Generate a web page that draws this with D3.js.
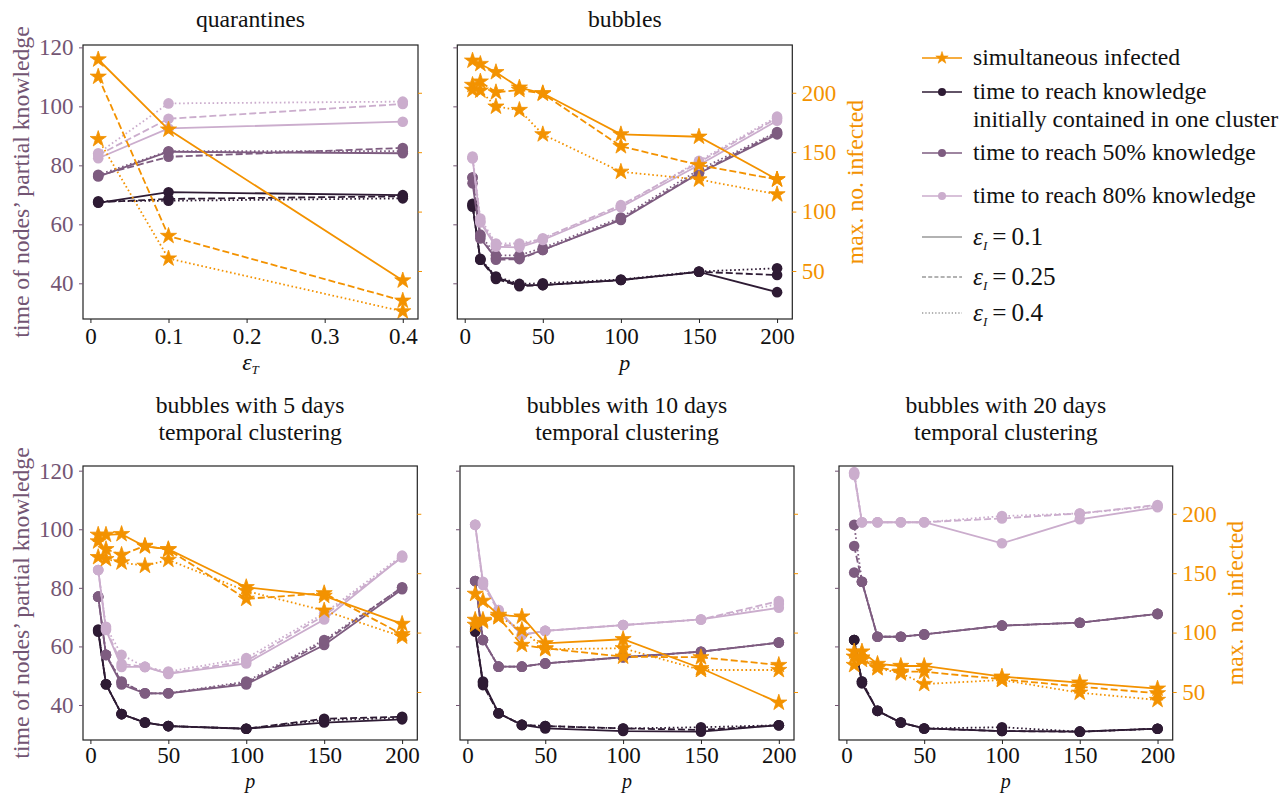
<!DOCTYPE html>
<html>
<head>
<meta charset="utf-8">
<script src="https://cdn.jsdelivr.net/npm/d3@7"></script>
<style>
  body { margin: 0; background: #fff; }
</style>
</head>
<body>
<div id="chart"></div>
<script>
// x values
const epsT = [0.01, 0.1, 0.4];
const pVals = [5, 10, 20, 35, 50, 100, 150, 200];

// rows: eps_I = 0.1 (solid), 0.25 (dashed), 0.4 (dotted)
// quarantines
const quarInfected = [[228, 169, 42], [213.5, 79.5, 25], [161, 60.5, 16]];
const quarCluster  = [[67.3, 70.9, 69.9], [67.5, 68.6, 69.5], [67.8, 68.0, 68.8]];
const quarHalf     = [[76.2, 84.6, 84.1], [76.5, 82.9, 85.9], [76.8, 84.8, 84.8]];
const quarEighty   = [[82.4, 92.5, 94.8], [83.5, 95.8, 100.8], [84.1, 101, 101.6]];

// bubbles
const bubInfected = [[227, 224.2, 217.3, 204.3, 199.6, 165, 163, 127],
                     [206.6, 209.4, 200.4, 202.4, 199.2, 155, 139.2, 127],
                     [202.4, 201.8, 188.3, 185.5, 165, 133.5, 127, 114.5]];
const bubCluster  = [[66.5, 48, 42, 39.4, 39.4, 41.1, 43.9, 37],
                     [66.0, 48, 41.5, 39, 39.4, 41.1, 43.9, 42.8],
                     [67, 48.3, 42.3, 39.8, 40, 41.3, 44, 45.1]];
const bubHalf     = [[73.9, 55.2, 48.5, 48.5, 51.3, 61.5, 77.3, 90.5],
                     [75.9, 56, 48, 48.2, 51.3, 61.8, 77.6, 91],
                     [75.9, 56.5, 49.5, 49.5, 52, 62.3, 78.5, 91.3]];
const bubEighty   = [[82.4, 60.6, 52.4, 52.2, 54.7, 65.8, 80.1, 95.1],
                     [82.4, 61, 53, 52.8, 55.3, 66.5, 81, 96],
                     [83, 62, 53.5, 53.5, 55, 66, 81.5, 96.5]];

// bubbles with 5 days temporal clustering
const t5Infected = [[182.3, 182.3, 182.9, 172.5, 170.2, 138.2, 130.9, 107.3],
                    [176.7, 170.2, 165.4, 173, 169.7, 128.4, 133.1, 98.6],
                    [163.5, 161.8, 159, 156.2, 161.2, 135, 118.5, 96.6]];
const t5Cluster  = [[65, 47.1, 36.9, 34, 32.8, 31.9, 34, 35.1],
                    [65.8, 47.1, 36.9, 34, 32.8, 31.9, 35.3, 36],
                    [65.5, 47.1, 36.9, 34, 32.8, 31.9, 34.8, 35.6]];
const t5Half     = [[77, 57.1, 47, 44, 44, 47, 60.5, 79.5],
                    [77, 57.1, 47.8, 44, 44, 47.5, 61.5, 80.2],
                    [77, 57.1, 48, 44, 44, 48, 62.2, 80]];
const t5Eighty   = [[86.1, 65.6, 53, 53, 50.6, 54.2, 69.2, 90.6],
                    [86.1, 66, 54, 53, 50.8, 55, 70.5, 90.4],
                    [86.1, 66.7, 57.1, 53, 51.4, 56, 71.3, 91]];

// bubbles with 10 days temporal clustering
const t10Infected = [[132.6, 126.7, 114.9, 113.5, 91, 94.4, 70, 41],
                     [110.7, 109.3, 112.9, 89.6, 86.8, 79.7, 79.2, 72.7],
                     [106.5, 110.7, 113.5, 102.2, 86, 86.8, 68.5, 68.5]];
const t10Cluster  = [[65, 48, 37.2, 33.2, 32, 31.1, 30.9, 33.1],
                     [65.6, 46.8, 37.2, 33.2, 32.8, 32, 31.5, 33.1],
                     [65.6, 47.5, 37.2, 33.2, 32.8, 32, 32.4, 33.1]];
const t10Half     = [[82.3, 62.2, 53.1, 53.1, 54.2, 56.3, 58.2, 61.3],
                     [82.3, 62.2, 53.1, 53.1, 54.2, 56.3, 58.2, 61.3],
                     [82.3, 62.2, 53.1, 53.1, 54.2, 56.3, 58.2, 61.3]];
const t10Eighty   = [[101.5, 82.1, 72.4, 63.9, 65.3, 67.3, 69.2, 73.2],
                     [101.5, 81, 72, 64, 65.3, 67.3, 69.2, 75.5],
                     [101.5, 81.5, 72.4, 64, 65.3, 67.3, 69.2, 74.5]];

// bubbles with 20 days temporal clustering
const t20Infected = [[84, 84, 73.6, 71.9, 71.9, 62.9, 57.9, 52.8],
                     [79.7, 77, 70.8, 67.1, 67.1, 60.7, 54.5, 48.9],
                     [72.7, 79, 70, 65.7, 56.7, 60.1, 49.4, 43.3]];
const t20Cluster  = [[62.2, 47.4, 38, 34, 32, 31.1, 30.9, 31.9],
                     [62.2, 48, 38, 34, 32, 31.1, 30.9, 31.9],
                     [62.2, 48, 38, 34, 32, 32.4, 30.9, 31.9]];
const t20Half     = [[85.2, 82.1, 63.3, 63.3, 64.1, 67.1, 68.1, 71.1],
                     [94.3, 82.1, 63.3, 63.3, 64.1, 67.1, 68.1, 71.1],
                     [101.5, 82.1, 63.3, 63.3, 64.1, 67.1, 68.1, 71.1]];
const t20Eighty   = [[119.1, 102.4, 102.4, 102.4, 102.4, 95.2, 103.4, 107.5],
                     [118.5, 102.4, 102.4, 102.4, 102.4, 103.7, 105.4, 108.3],
                     [119.5, 102.4, 102.4, 102.4, 102.4, 104.5, 105.4, 108]];

const leftTicks = [40, 60, 80, 100, 120];
const rightTicks = [50, 100, 150, 200];
const epsTTicks = [0, 0.1, 0.2, 0.3, 0.4];
const pTicks = [0, 50, 100, 150, 200];

// colours / styles
const orange = '#f39200';
const dark = '#2e1b34';
const mid = '#7e5c80';
const light = '#cbadcd';
const purpleText = '#735573';
const dashes = [null, '7,3', '1.6,2.6'];
const fontSize = 23.7;
const tickSize = 23;
const serif = '"Liberation Serif", "Times New Roman", Times, "Nimbus Roman", "DejaVu Serif", serif';

const width = 1285, height = 793;
const svg = d3.select('#chart').append('svg')
    .attr('width', width)
    .attr('height', height)
    .attr('font-family', serif)
    .style('font-family', serif);

//5 pointed star like the matplotlib '*' marker
function starPath(R) {
    const r = R * 0.382;
    const pts = [];
    for (let i = 0; i < 10; i++) {
        const a = -Math.PI / 2 + i * Math.PI / 5;
        const rad = i % 2 ? r : R;
        pts.push([rad * Math.cos(a), rad * Math.sin(a)]);
    }
    return 'M' + pts.map(p => p[0].toFixed(2) + ',' + p[1].toFixed(2)).join('L') + 'Z';
}

// xlabY / xlabSize / tickPad differ per row so the bottom labels stay inside the page
const panels = [
    {title: ['quarantines'], x: epsT, inf: quarInfected, clu: quarCluster, half: quarHalf, eighty: quarEighty,
     box: [83, 418, 45, 319], xdom: [-0.0095, 0.4195], ydom: [27.9, 120.8], xticks: epsTTicks,
     leftLab: true, rightLab: false, xlabel: 'T', titleY: [27], xlabY: 370, xlabSize: 22, tickPad: 5},
    {title: ['bubbles'], x: pVals, inf: bubInfected, clu: bubCluster, half: bubHalf, eighty: bubEighty,
     box: [457.3, 792.3, 45, 319], xdom: [-4.75, 209.75], ydom: [27.9, 120.8], xticks: pTicks,
     leftLab: false, rightLab: true, xlabel: 'p', titleY: [27], xlabY: 370, xlabSize: 22, tickPad: 5},
    {title: ['bubbles with 5 days', 'temporal clustering'], x: pVals, inf: t5Infected, clu: t5Cluster, half: t5Half, eighty: t5Eighty,
     box: [83, 417.3, 466, 740], xdom: [-4.75, 209.75], ydom: [28.05, 121.6], xticks: pTicks,
     leftLab: true, rightLab: false, xlabel: 'p', titleY: [413, 440], xlabY: 788, xlabSize: 20, tickPad: 3},
    {title: ['bubbles with 10 days', 'temporal clustering'], x: pVals, inf: t10Infected, clu: t10Cluster, half: t10Half, eighty: t10Eighty,
     box: [460, 794, 466, 740], xdom: [-4.75, 209.75], ydom: [28.05, 121.6], xticks: pTicks,
     leftLab: false, rightLab: false, xlabel: 'p', titleY: [413, 440], xlabY: 788, xlabSize: 20, tickPad: 3},
    {title: ['bubbles with 20 days', 'temporal clustering'], x: pVals, inf: t20Infected, clu: t20Cluster, half: t20Half, eighty: t20Eighty,
     box: [839, 1172.7, 466, 740], xdom: [-4.75, 209.75], ydom: [28.05, 121.6], xticks: pTicks,
     leftLab: false, rightLab: true, xlabel: 'p', titleY: [413, 440], xlabY: 788, xlabSize: 20, tickPad: 3}
];

panels.forEach((pn, pi) => {
    const [x0, x1, y0, y1] = pn.box;
    const x = d3.scaleLinear().domain(pn.xdom).range([x0, x1]);
    const yL = d3.scaleLinear().domain(pn.ydom).range([y1, y0]);
    const yR = d3.scaleLinear().domain([9.6, 240.2]).range([y1, y0]);
    const g = svg.append('g');

    const clipId = 'clip' + pi;
    g.append('clipPath').attr('id', clipId).append('rect')
        .attr('x', x0).attr('y', y0).attr('width', x1 - x0).attr('height', y1 - y0);

    const plot = g.append('g').attr('clip-path', 'url(#' + clipId + ')');

    //purple series (left axis)
    const purpleSets = [[pn.clu, dark], [pn.half, mid], [pn.eighty, light]];
    purpleSets.forEach(([rows, col]) => {
        rows.forEach((vals, k) => {
            const pts = vals.map((v, i) => [pn.x[i], v]);
            plot.append('path')
                .attr('d', d3.line().x(d => x(d[0])).y(d => yL(d[1]))(pts))
                .attr('fill', 'none')
                .attr('stroke', col)
                .attr('stroke-width', 1.8)
                .attr('stroke-dasharray', dashes[k]);
            plot.selectAll(null).data(pts).enter().append('circle')
                .attr('cx', d => x(d[0]))
                .attr('cy', d => yL(d[1]))
                .attr('r', 5.3)
                .attr('fill', col);
        });
    });

    //orange series (right axis)
    pn.inf.forEach((vals, k) => {
        const pts = vals.map((v, i) => [pn.x[i], v]);
        plot.append('path')
            .attr('d', d3.line().x(d => x(d[0])).y(d => yR(d[1]))(pts))
            .attr('fill', 'none')
            .attr('stroke', orange)
            .attr('stroke-width', 1.8)
            .attr('stroke-dasharray', dashes[k]);
        plot.selectAll(null).data(pts).enter().append('path')
            .attr('d', starPath(8.5))
            .attr('transform', d => 'translate(' + x(d[0]) + ',' + yR(d[1]) + ')')
            .attr('fill', orange)
            .attr('stroke', orange)
            .attr('stroke-width', 0.8)
            .attr('stroke-linejoin', 'round');
    });

    //frame
    g.append('rect')
        .attr('x', x0).attr('y', y0)
        .attr('width', x1 - x0).attr('height', y1 - y0)
        .attr('fill', 'none')
        .attr('stroke', '#222')
        .attr('stroke-width', 1.2);

    //axes
    const fmtX = d => d === 0 ? '0' : String(d);
    const ax = g.append('g').attr('transform', 'translate(0,' + y1 + ')')
        .call(d3.axisBottom(x).tickValues(pn.xticks).tickFormat(fmtX).tickSize(4).tickPadding(pn.tickPad));
    ax.select('.domain').remove();
    ax.selectAll('line').attr('stroke', '#222');
    ax.selectAll('text').attr('fill', '#111');

    const al = g.append('g').attr('transform', 'translate(' + x0 + ',0)')
        .call(d3.axisLeft(yL).tickValues(leftTicks).tickSize(4).tickPadding(5.5)
            .tickFormat(pn.leftLab ? d3.format('d') : ''));
    al.select('.domain').remove();
    al.selectAll('line').attr('stroke', purpleText);
    al.selectAll('text').attr('fill', purpleText);

    const ar = g.append('g').attr('transform', 'translate(' + x1 + ',0)')
        .call(d3.axisRight(yR).tickValues(rightTicks).tickSize(4).tickPadding(5.5)
            .tickFormat(pn.rightLab ? d3.format('d') : ''));
    ar.select('.domain').remove();
    ar.selectAll('line').attr('stroke', orange);
    ar.selectAll('text').attr('fill', orange);

    [ax, al, ar].forEach(a => a.attr('font-family', serif).attr('font-size', tickSize));

    //titles
    pn.title.forEach((t, i) => {
        g.append('text')
            .attr('x', (x0 + x1) / 2)
            .attr('y', pn.titleY[i])
            .attr('text-anchor', 'middle')
            .attr('font-size', fontSize)
            .attr('fill', '#111')
            .text(t);
    });

    //x labels
    const xl = g.append('text')
        .attr('x', (x0 + x1) / 2)
        .attr('y', pn.xlabY)
        .attr('text-anchor', 'middle')
        .attr('font-size', pn.xlabSize)
        .attr('font-style', 'italic')
        .attr('fill', '#111');
    if (pn.xlabel === 'p') {
        xl.text('p');
    } else {
        xl.append('tspan').attr('font-size', 24).text('ε');
        xl.append('tspan').attr('font-size', 13).attr('dy', 4).text('T');
    }

    //y labels
    if (pn.leftLab) {
        g.append('text')
            .attr('transform', 'translate(29,' + (y0 + y1) / 2 + ') rotate(-90)')
            .attr('text-anchor', 'middle')
            .attr('font-size', fontSize)
            .attr('fill', purpleText)
            .text('time of nodes\u2019 partial knowledge');
    }
    if (pn.rightLab) {
        g.append('text')
            .attr('transform', 'translate(' + (x1 + 70.5) + ',' + (y0 + y1) / 2 + ') rotate(-90)')
            .attr('text-anchor', 'middle')
            .attr('font-size', fontSize)
            .attr('fill', orange)
            .text('max. no. infected');
    }
});

//legend
const legendRows = [
    {y: 58, col: orange, marker: 'star', text: ['simultaneous infected']},
    {y: 92, col: dark, marker: 'dot', text: ['time to reach knowledge', 'initially contained in one cluster']},
    {y: 153, col: mid, marker: 'dot', text: ['time to reach 50% knowledge']},
    {y: 196, col: light, marker: 'dot', text: ['time to reach 80% knowledge']},
    {y: 237, col: '#999', marker: null, eps: '0.1', dash: null},
    {y: 277, col: '#999', marker: null, eps: '0.25', dash: '4,2.2'},
    {y: 313, col: '#999', marker: null, eps: '0.4', dash: '1.3,2'}
];
const leg = svg.append('g');
legendRows.forEach(r => {
    leg.append('line')
        .attr('x1', 922).attr('x2', 962)
        .attr('y1', r.y).attr('y2', r.y)
        .attr('stroke', r.col)
        .attr('stroke-width', 1.6)
        .attr('stroke-dasharray', r.dash);
    if (r.marker === 'star') {
        leg.append('path').attr('d', starPath(6.5))
            .attr('transform', 'translate(942,' + r.y + ')')
            .attr('fill', r.col).attr('stroke', r.col).attr('stroke-width', 0.6);
    } else if (r.marker === 'dot') {
        leg.append('circle').attr('cx', 942).attr('cy', r.y).attr('r', 4).attr('fill', r.col);
    }
    if (r.text) {
        r.text.forEach((t, i) => {
            leg.append('text')
                .attr('x', 973)
                .attr('y', r.y + 7 + i * 27.7)
                .attr('font-size', fontSize)
                .attr('fill', '#111')
                .text(t);
        });
    } else {
        const t = leg.append('text')
            .attr('x', 973)
            .attr('y', r.y + 8)
            .attr('font-size', fontSize + 1.5)
            .attr('fill', '#111');
        t.append('tspan').attr('font-style', 'italic').text('ε');
        t.append('tspan').attr('font-style', 'italic').attr('font-size', 13).attr('dy', 5).text('I');
        t.append('tspan').attr('dy', -5).text('\u2009=\u20090' + r.eps.slice(1));
    }
});

svg.selectAll('text').style('font-family', serif);
</script>
</body>
</html>
